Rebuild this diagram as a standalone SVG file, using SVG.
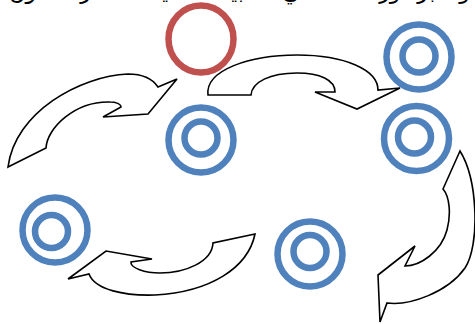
<svg xmlns="http://www.w3.org/2000/svg" width="475" height="324" viewBox="0 0 475 324">
<style>
.arrow{fill:#fff;stroke:#000;stroke-width:1.6;stroke-linejoin:miter}
.ring{fill:none;stroke:#4F81BD;stroke-width:6.5}
.red{fill:none;stroke:#C0504D;stroke-width:6.5}
.txt{font-family:"DejaVu Sans",sans-serif;font-size:22px;fill:#000}
</style>
<rect width="475" height="324" fill="#fff"/>
<text class="txt" x="470" y="-1" text-anchor="start" direction="rtl">وتعتبر دورة الماء في الطبيعة عملية مستمرة تتكون من عدة مراحل هي</text>
<g id="connectors">
<path id="arrow1" class="arrow" d="M8,167 L46,148 C 47,128 75,101 110,102 C 116,102 121,104 121,107 L103,117 L148,114 L177,79 L158,87 C 152,78 142,74 128,74 C 80,76 15,112 8,167 Z"/>
<path id="arrow2" class="arrow" d="M208,95 C 205,70 250,55 297,55 C 345,55 378,70 378,90 L400,88 L357,109 L315,92 L335,92 C 335,80 320,73 297,73 C 270,73 252,82 251,95 Z"/>
<path id="arrow3" class="arrow" d="M460,151 L443,189 C 450,197 451,215 447,230 C 441,252 420,266 405,266 L415,246 L378,275 L380,322 L387,303 C 410,306 448,292 465,268 C 480,245 478,180 460,151 Z"/>
<path id="arrow4" class="arrow" d="M255,234 L213,243 C 212,262 185,273 160,273 C 145,273 130,268 131,262 L152,259 L106,251 L68,279 L89,274 C 95,290 125,296 155,295 C 210,292 248,268 255,234 Z"/>
</g>
<g id="red-circle"><ellipse class="red" cx="201" cy="39" rx="32.5" ry="33.5"/></g>
<g id="target-center"><circle class="ring" cx="201" cy="140" r="32.5"/><circle class="ring" cx="201" cy="138" r="16.5"/></g>
<g id="target-top-right"><circle class="ring" cx="419" cy="57" r="32.5"/><circle class="ring" cx="419" cy="56" r="16.5"/></g>
<g id="target-right"><circle class="ring" cx="416.5" cy="138.5" r="32.5"/><circle class="ring" cx="414.5" cy="137" r="16.5"/></g>
<g id="target-bottom-left"><circle class="ring" cx="55" cy="230" r="32.5"/><circle class="ring" cx="51.5" cy="231.5" r="16.5"/></g>
<g id="target-bottom-mid"><circle class="ring" cx="310" cy="254" r="32.5"/><circle class="ring" cx="310" cy="251.5" r="16.5"/></g>
</svg>
